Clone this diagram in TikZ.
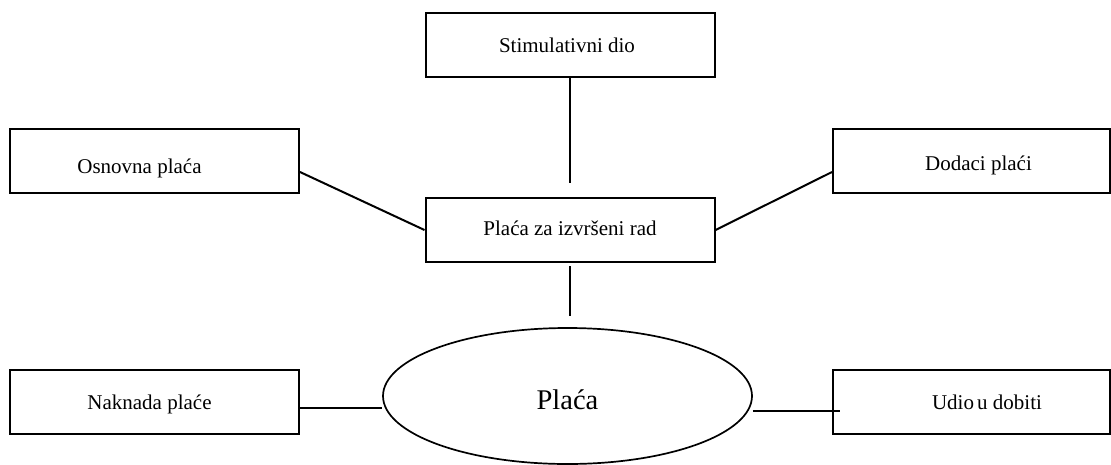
\documentclass[tikz,border=0pt]{standalone}
\usepackage{fontspec}
\setmainfont{Liberation Serif}
\usetikzlibrary{shapes.geometric}
\newcommand{\dropby}[2]{\raisebox{-#1}[0pt][0pt]{#2}}
\begin{document}
\begin{tikzpicture}[x=1pt,y=-1pt,
  box/.style={draw,line width=2pt,rectangle,minimum width=289pt,minimum height=64pt,inner sep=0pt,text height=19pt,text depth=5pt,font=\fontsize{21}{25}\selectfont},
  conn/.style={line width=2pt},
  oval/.style={draw,line width=1.7pt,ellipse,minimum width=369pt,minimum height=136pt,inner sep=0pt,text height=20pt,text depth=6pt,font=\fontsize{28.5}{33}\selectfont}]
\useasboundingbox (0,0) rectangle (1111,464);
\node[box] (stim) at (570,45) {\dropby{0pt}{Stimulativni dio}\kern6pt};
\node[box] (osn) at (154.5,161) {\dropby{5pt}{Osnovna plaća}\kern30pt};
\node[box,minimum width=277pt] (dod) at (971.5,161) {\kern14pt\dropby{2pt}{Dodaci plaći}};
\node[box] (pz) at (570,230) {\dropby{-2pt}{Plaća za izvršeni rad}};
\node[box] (nak) at (154.5,402) {\dropby{0pt}{Naknada plaće}\kern10pt};
\node[box,minimum width=277pt] (udio) at (971.5,402) {\kern31pt\dropby{0pt}{Udio\kern-2pt{} u dobiti}};
\node[oval] (pl) at (567.5,396) {\dropby{6pt}{Plaća}};
\coordinate (nl) at ([yshift=-6pt]nak.east);
\coordinate (ul) at ([xshift=8pt,yshift=-9pt]udio.west);
\draw[conn,shorten >=14pt] (stim.south) -- (pz.north);
\draw[conn,shorten <=3pt,shorten >=11pt] (pz.south) -- (pz.south |- pl.north);
\draw[conn] ([yshift=-11pt]osn.east) -- (pz.west);
\draw[conn] ([yshift=-11pt]dod.west) -- (pz.east);
\draw[conn] (nl) -- (nl -| pl.west);
\draw[conn] (ul -| pl.east) -- (ul);
\end{tikzpicture}
\end{document}
